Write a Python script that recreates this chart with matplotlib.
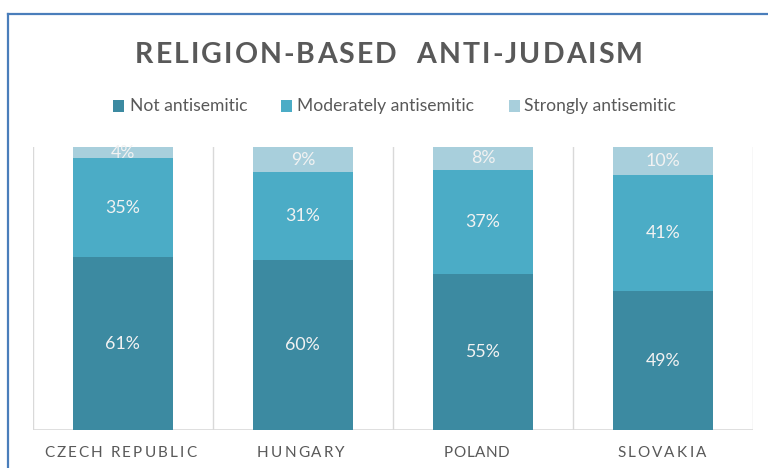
import matplotlib
matplotlib.use("Agg")
import matplotlib.pyplot as plt
from matplotlib.font_manager import FontProperties
from matplotlib.textpath import text_to_path
from matplotlib.patches import Rectangle
from matplotlib.lines import Line2D

# survey shares per country (percent)
countries = ["CZECH REPUBLIC", "HUNGARY", "POLAND", "SLOVAKIA"]
not_anti = [61, 60, 55, 49]
moderate = [35, 31, 37, 41]
strong = [4, 9, 8, 10]
series_names = ["Not antisemitic", "Moderately antisemitic", "Strongly antisemitic"]
colors = ["#3C8AA1", "#4BACC6", "#A8CFDC"]

W, H, DPI = 768, 468, 100
FONT = ["Lato", "DejaVu Sans"]
GRAY = "#595959"

fig = plt.figure(figsize=(W / DPI, H / DPI), dpi=DPI)
fig.patch.set_facecolor("white")


def px(x, y):
    return x / W, 1 - y / H


def char_width(c, prop):
    if c == " ":
        a = text_to_path.get_text_width_height_descent("a a", prop, ismath=False)[0]
        b = text_to_path.get_text_width_height_descent("aa", prop, ismath=False)[0]
        return (a - b) * DPI / 72
    return text_to_path.get_text_width_height_descent(c, prop, ismath=False)[0] * DPI / 72


def spaced_text(xc, ybase, s, width, size, color, weight="normal"):
    # lay out letters one by one so the label spans the given pixel width
    prop = FontProperties(family=FONT, size=size, weight=weight)
    widths = [char_width(c, prop) for c in s]
    track = (width - sum(widths)) / (len(s) - 1)
    x = xc - width / 2
    for c, w in zip(s, widths):
        fig.text(*px(x, ybase), c, fontproperties=prop, color=color,
                 ha="left", va="baseline")
        x += w + track


# outer frame (left and top edges visible)
fig.add_artist(Line2D([8 / W, 8 / W], [0, 1 - 14 / H], color="#4A7EBB", lw=1.6))
fig.add_artist(Line2D([8 / W, 1], [1 - 14 / H, 1 - 14 / H], color="#4A7EBB", lw=1.6))

spaced_text(389, 63, "RELIGION-BASED  ANTI-JUDAISM", 508, 20.5, GRAY, weight="bold")

# legend
leg_marks = [113, 281, 509]
leg_text = [130, 297, 524]
for mx, tx, name, col in zip(leg_marks, leg_text, series_names, colors):
    x0, y0 = px(mx, 112)
    fig.add_artist(Rectangle((x0, y0), 11 / W, 11.5 / H, transform=fig.transFigure,
                             facecolor=col, edgecolor="none"))
    fig.text(*px(tx, 111), name, family=FONT, fontsize=12.6, color=GRAY,
             ha="left", va="baseline")

ax = fig.add_axes([32.7 / W, 1 - 430 / H, (753 - 32.7) / W, (430 - 147) / H])
xs = range(len(countries))
bottom2 = [a + b for a, b in zip(not_anti, moderate)]
ax.bar(xs, not_anti, width=0.556, color=colors[0], zorder=2)
ax.bar(xs, moderate, width=0.556, bottom=not_anti, color=colors[1], zorder=2)
ax.bar(xs, strong, width=0.556, bottom=bottom2, color=colors[2], zorder=2)

for i in xs:
    segs = [(0, not_anti[i]), (not_anti[i], moderate[i]), (bottom2[i], strong[i])]
    for b, v in segs:
        ax.text(i, b + v / 2, f"{v}%", ha="center", va="center", family=FONT,
                fontsize=12.8, color="#F2F2F2", zorder=3)

ax.set_xlim(-0.5, len(countries) - 0.5)
ax.set_ylim(0, 100)
for xv in [k - 0.5 for k in range(len(countries) + 1)]:
    ax.axvline(xv, color="#D9D9D9", lw=1, zorder=1)
ax.axhline(0, color="#D9D9D9", lw=1.2, zorder=1)
ax.set_xticks([])
ax.set_yticks([])
for s in ax.spines.values():
    s.set_visible(False)

# category labels, letter-spaced
label_spans = [(44, 196), (257, 345), (444, 509), (617, 706)]
for name, (l, r) in zip(countries, label_spans):
    spaced_text((l + r) / 2, 457, name, r - l, 11, "#595959")

fig.savefig("out.png", dpi=DPI, facecolor="white")
